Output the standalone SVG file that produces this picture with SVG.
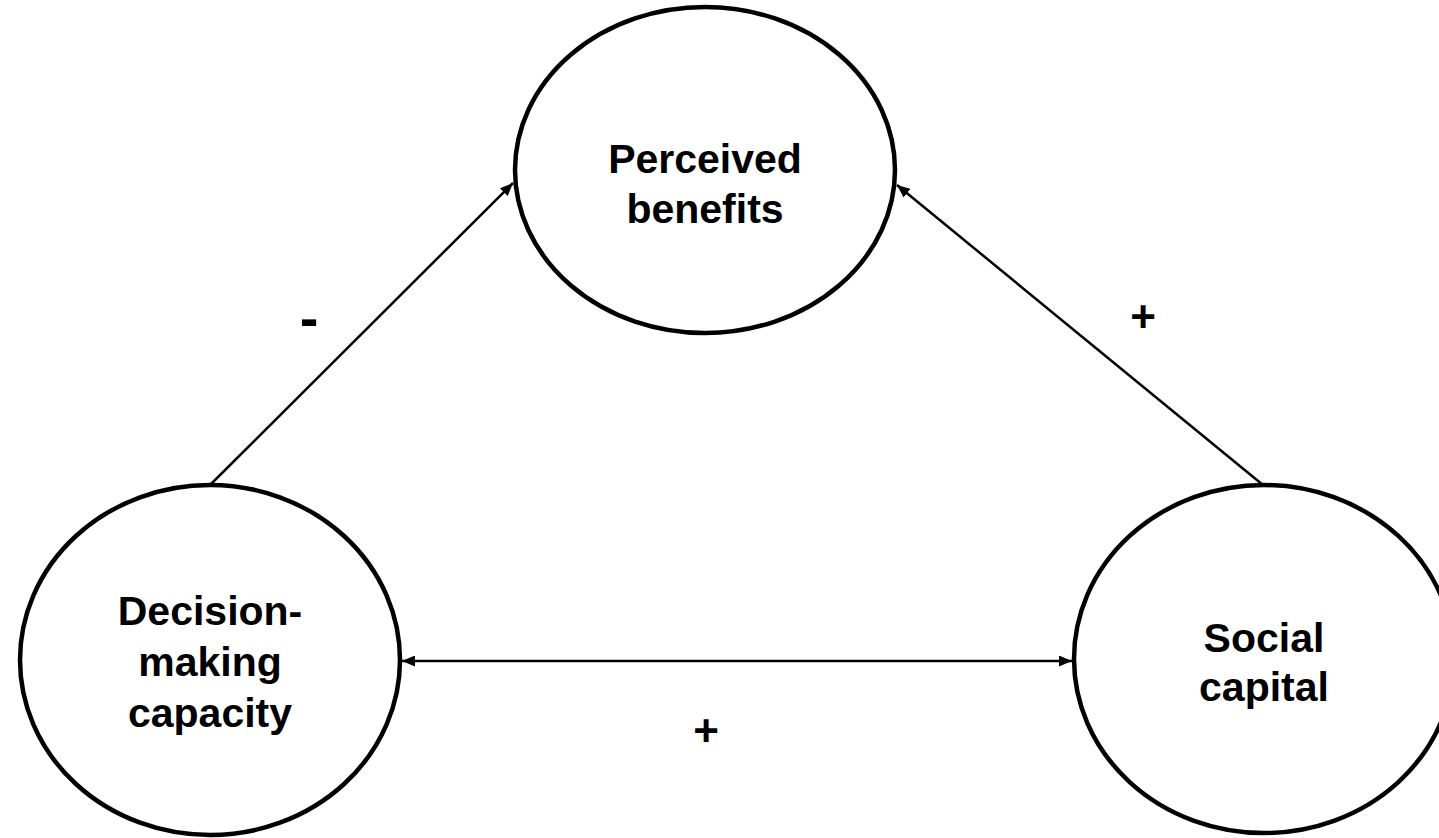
<svg xmlns="http://www.w3.org/2000/svg" width="1439" height="838" viewBox="0 0 1439 838">
<style>
.node ellipse{fill:#fff;stroke:#000;stroke-width:4.5}
.node text,.lbl{font-family:"Liberation Sans",Arial,sans-serif;font-weight:bold;font-size:41px;fill:#000;text-anchor:middle}
.lbl{font-size:44px}
.edge{stroke:#000;stroke-width:2.5;fill:none}
</style>
<defs>
<marker id="ah" viewBox="0 0 13 11" refX="13" refY="5.5" markerWidth="13" markerHeight="11" markerUnits="userSpaceOnUse" orient="auto-start-reverse">
<path d="M0,0 L13,5.5 L0,11 Z" fill="#000"/>
</marker>
</defs>
<rect width="1439" height="838" fill="#fff"/>
<g id="connectors">
<line class="edge" x1="210" y1="485" x2="513" y2="183" marker-end="url(#ah)"/>
<line class="edge" x1="1263" y1="485" x2="897" y2="185" marker-end="url(#ah)"/>
<line class="edge" x1="402" y1="661" x2="1072" y2="661" marker-start="url(#ah)" marker-end="url(#ah)"/>
</g>
<g id="node-perceived" class="node">
<ellipse cx="705" cy="170" rx="190" ry="163"/>
<text x="705" y="173">Perceived</text>
<text x="705" y="223">benefits</text>
</g>
<g id="node-decision" class="node">
<ellipse cx="210" cy="660" rx="190" ry="175"/>
<text x="210" y="625">Decision-</text>
<text x="210" y="676">making</text>
<text x="210" y="727">capacity</text>
</g>
<g id="node-social" class="node">
<ellipse cx="1264" cy="659" rx="190" ry="174"/>
<text x="1264" y="652">Social</text>
<text x="1264" y="701">capital</text>
</g>
<g id="labels">
<text class="lbl" x="309" y="337" style="font-size:56px">-</text>
<text class="lbl" x="1143" y="332">+</text>
<text class="lbl" x="706" y="746">+</text>
</g>
</svg>
